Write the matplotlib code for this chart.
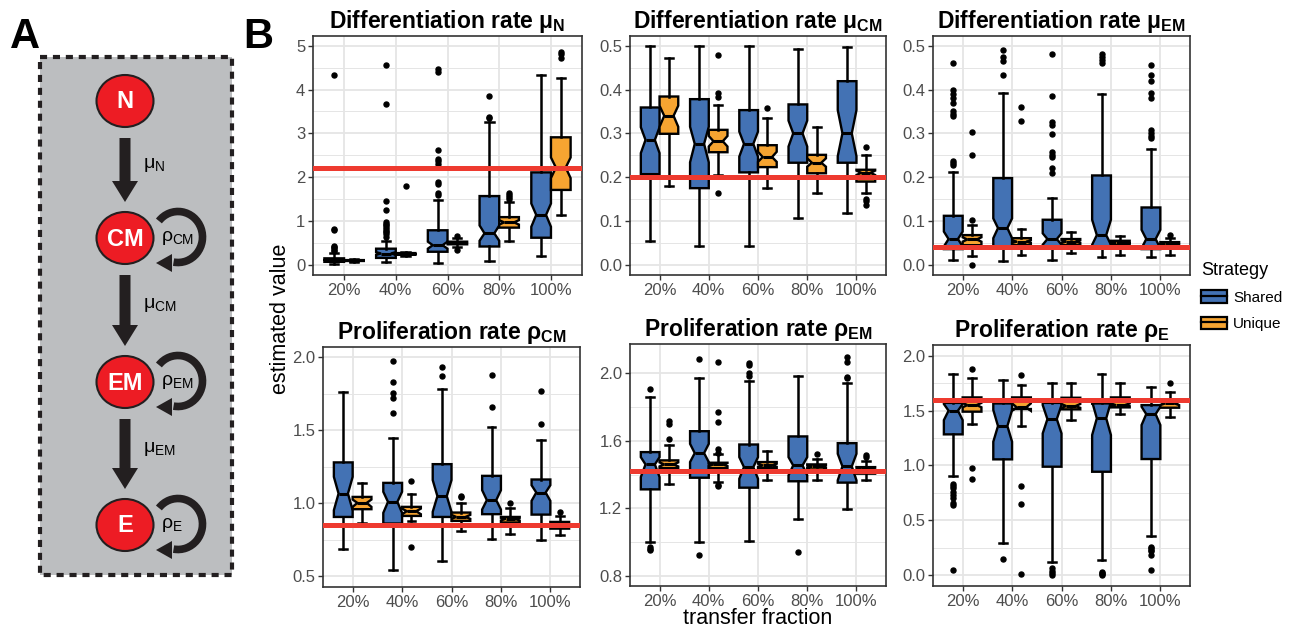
import matplotlib
matplotlib.use('Agg')
import matplotlib.pyplot as plt
import matplotlib.patches as mpatches
from matplotlib.lines import Line2D

plt.rcParams['font.family'] = ['Liberation Sans', 'DejaVu Sans']
plt.rcParams['mathtext.fontset'] = 'custom'
plt.rcParams['mathtext.rm'] = 'Liberation Sans'
plt.rcParams['mathtext.it'] = 'Liberation Sans'
plt.rcParams['mathtext.bf'] = 'Liberation Sans:bold'

# ---- data -------------------------------------------------------------
fractions = ['20%', '40%', '60%', '80%', '100%']
strategies = ['Shared', 'Unique']

# one row per fraction: (whisker low, q1, notch low, median, notch high, q3, whisker high)
mu_n_shared = [(0.03, 0.07, 0.10, 0.11, 0.12, 0.15, 0.28),
               (0.06, 0.16, 0.23, 0.26, 0.29, 0.37, 0.55),
               (0.05, 0.30, 0.37, 0.45, 0.53, 0.79, 1.47),
               (0.08, 0.42, 0.55, 0.72, 0.90, 1.57, 3.25),
               (0.20, 0.62, 0.87, 1.14, 1.40, 2.11, 4.33)]
mu_n_unique = [(0.07, 0.09, 0.095, 0.10, 0.105, 0.11, 0.13),
               (0.21, 0.23, 0.24, 0.25, 0.26, 0.27, 0.29),
               (0.40, 0.47, 0.48, 0.50, 0.52, 0.53, 0.62),
               (0.55, 0.85, 0.92, 0.97, 1.02, 1.09, 1.43),
               (1.13, 1.71, 1.98, 2.22, 2.45, 2.91, 4.27)]
mu_n_shared_out = [[4.33, 0.83, 0.80, 0.44, 0.41, 0.38, 0.35, 0.32],
                   [4.57, 3.66, 1.45, 1.26, 0.98, 0.94, 0.90, 0.86, 0.82, 0.78, 0.74, 0.70, 0.64],
                   [4.46, 4.41, 2.61, 2.42, 2.37, 2.30, 1.88, 1.84, 1.65, 1.60],
                   [3.85, 3.38, 3.35],
                   []]
mu_n_unique_out = [[], [1.80], [0.67, 0.35], [1.65, 1.60, 1.55, 1.50], [4.85, 4.82, 4.72]]

mu_cm_shared = [(0.055, 0.207, 0.255, 0.285, 0.314, 0.359, 0.500),
                (0.044, 0.175, 0.234, 0.276, 0.315, 0.378, 0.500),
                (0.043, 0.211, 0.247, 0.276, 0.304, 0.353, 0.500),
                (0.106, 0.233, 0.270, 0.300, 0.329, 0.366, 0.492),
                (0.118, 0.233, 0.248, 0.300, 0.353, 0.419, 0.496)]
mu_cm_unique = [(0.181, 0.299, 0.315, 0.340, 0.363, 0.384, 0.471),
                (0.205, 0.257, 0.270, 0.282, 0.294, 0.308, 0.365),
                (0.176, 0.223, 0.235, 0.246, 0.258, 0.273, 0.335),
                (0.163, 0.209, 0.224, 0.233, 0.243, 0.251, 0.315),
                (0.165, 0.190, 0.205, 0.210, 0.215, 0.217, 0.251)]
mu_cm_shared_out = [[], [], [], [], []]
mu_cm_unique_out = [[], [0.478, 0.392, 0.383, 0.164], [0.358], [], [0.268, 0.150, 0.145, 0.137]]

mu_em_shared = [(0.011, 0.036, 0.042, 0.059, 0.076, 0.112, 0.213),
                (0.009, 0.040, 0.061, 0.084, 0.106, 0.198, 0.391),
                (0.011, 0.038, 0.046, 0.059, 0.072, 0.103, 0.153),
                (0.017, 0.040, 0.046, 0.068, 0.103, 0.204, 0.389),
                (0.017, 0.036, 0.038, 0.059, 0.080, 0.131, 0.264)]
mu_em_unique = [(0.020, 0.045, 0.053, 0.058, 0.063, 0.068, 0.090),
                (0.023, 0.045, 0.050, 0.053, 0.056, 0.061, 0.081),
                (0.027, 0.045, 0.050, 0.053, 0.056, 0.059, 0.074),
                (0.023, 0.045, 0.048, 0.050, 0.052, 0.055, 0.065),
                (0.023, 0.043, 0.046, 0.048, 0.050, 0.052, 0.062)]
mu_em_shared_out = [[0.460, 0.399, 0.390, 0.380, 0.370, 0.350, 0.345, 0.340, 0.237, 0.233, 0.228],
                    [0.490, 0.475, 0.465, 0.433],
                    [0.480, 0.385, 0.325, 0.320, 0.298, 0.258, 0.250, 0.245, 0.222, 0.210],
                    [0.482, 0.475, 0.468, 0.460],
                    [0.455, 0.432, 0.420, 0.392, 0.380, 0.307, 0.300, 0.295, 0.290]]
mu_em_unique_out = [[0.302, 0.250, 0.102, 0.000], [0.361, 0.328], [], [], [0.069]]

rho_cm_shared = [(0.689, 0.906, 0.952, 1.066, 1.180, 1.279, 1.763),
                 (0.546, 0.861, 0.934, 1.009, 1.078, 1.139, 1.448),
                 (0.605, 0.906, 0.941, 1.048, 1.158, 1.267, 1.781),
                 (0.753, 0.925, 0.957, 1.021, 1.089, 1.187, 1.523),
                 (0.747, 0.922, 1.016, 1.073, 1.123, 1.162, 1.432)]
rho_cm_unique = [(0.868, 0.959, 0.975, 1.002, 1.025, 1.043, 1.135),
                 (0.877, 0.913, 0.925, 0.945, 0.963, 0.975, 1.062),
                 (0.810, 0.879, 0.893, 0.906, 0.920, 0.936, 1.002),
                 (0.788, 0.868, 0.882, 0.893, 0.900, 0.906, 0.970),
                 (0.785, 0.826, 0.845, 0.855, 0.862, 0.872, 0.915)]
rho_cm_shared_out = [[], [1.975, 1.830, 1.755, 1.720, 1.615], [1.930, 1.870], [1.875, 1.660], [1.770, 1.540]]
rho_cm_unique_out = [[], [1.150, 0.700], [1.050, 1.040], [1.000], [0.940]]

rho_em_shared = [(1.001, 1.312, 1.385, 1.460, 1.503, 1.533, 1.862),
                 (1.001, 1.381, 1.474, 1.527, 1.582, 1.657, 1.970),
                 (1.005, 1.322, 1.375, 1.444, 1.503, 1.578, 1.957),
                 (1.139, 1.360, 1.395, 1.454, 1.503, 1.626, 1.986),
                 (1.198, 1.352, 1.366, 1.448, 1.523, 1.586, 1.941)]
rho_em_unique = [(1.342, 1.438, 1.448, 1.460, 1.472, 1.484, 1.576),
                 (1.356, 1.438, 1.450, 1.460, 1.468, 1.470, 1.520),
                 (1.366, 1.438, 1.446, 1.454, 1.464, 1.474, 1.539),
                 (1.369, 1.430, 1.440, 1.448, 1.454, 1.460, 1.494),
                 (1.369, 1.405, 1.425, 1.435, 1.440, 1.444, 1.480)]
rho_em_shared_out = [[1.905, 0.970, 0.960, 0.950], [2.085, 0.920], [2.060, 2.050, 2.000, 1.985],
                     [0.940], [2.095, 2.070, 1.980, 1.970]]
rho_em_unique_out = [[1.720, 1.700, 1.610], [2.070, 1.770, 1.710, 1.550, 1.530, 1.340, 1.330],
                     [], [1.520], [1.515, 1.505]]

rho_e_shared = [(0.906, 1.283, 1.413, 1.499, 1.560, 1.570, 1.833),
                (0.295, 1.055, 1.216, 1.359, 1.505, 1.565, 1.778),
                (0.115, 0.988, 1.292, 1.422, 1.550, 1.570, 1.748),
                (0.137, 0.942, 1.277, 1.429, 1.580, 1.565, 1.830),
                (0.356, 1.058, 1.368, 1.468, 1.535, 1.550, 1.711)]
rho_e_unique = [(1.374, 1.490, 1.530, 1.550, 1.570, 1.620, 1.800),
                (1.362, 1.514, 1.498, 1.529, 1.565, 1.620, 1.733),
                (1.413, 1.511, 1.525, 1.541, 1.560, 1.617, 1.754),
                (1.468, 1.529, 1.540, 1.550, 1.565, 1.620, 1.748),
                (1.444, 1.526, 1.550, 1.565, 1.580, 1.602, 1.672)]
rho_e_shared_out = [[0.830, 0.810, 0.790, 0.760, 0.730, 0.700, 0.660, 0.640, 0.050], [0.145],
                    [0.060, 0.040, 0.020, 0.000], [0.030, 0.020, 0.010, 0.000],
                    [0.260, 0.245, 0.230, 0.220, 0.180, 0.045]]
rho_e_unique_out = [[1.875, 0.975, 0.880], [1.820, 0.810, 0.650, 0.005], [], [], [1.755]]

# true parameter values (red lines)
true_values = [2.2, 0.2, 0.04, 0.85, 1.42, 1.6]

titles = [r'Differentiation rate $\mathbf{\mu_{N}}$',
          r'Differentiation rate $\mathbf{\mu_{CM}}$',
          r'Differentiation rate $\mathbf{\mu_{EM}}$',
          r'Proliferation rate $\mathbf{\rho_{CM}}$',
          r'Proliferation rate $\mathbf{\rho_{EM}}$',
          r'Proliferation rate $\mathbf{\rho_{E}}$']

yticks = [[0, 1, 2, 3, 4, 5],
          [0.0, 0.1, 0.2, 0.3, 0.4, 0.5],
          [0.0, 0.1, 0.2, 0.3, 0.4, 0.5],
          [0.5, 1.0, 1.5, 2.0],
          [0.8, 1.2, 1.6, 2.0],
          [0.0, 0.5, 1.0, 1.5, 2.0]]
ytick_labels = [['0', '1', '2', '3', '4', '5'],
                ['0.0', '0.1', '0.2', '0.3', '0.4', '0.5'],
                ['0.0', '0.1', '0.2', '0.3', '0.4', '0.5'],
                ['0.5', '1.0', '1.5', '2.0'],
                ['0.8', '1.2', '1.6', '2.0'],
                ['0.0', '0.5', '1.0', '1.5', '2.0']]
ylims = [(-0.23, 5.22), (-0.023, 0.522), (-0.023, 0.522),
         (0.427, 2.068), (0.739, 2.174), (-0.10, 2.098)]

panels = [(mu_n_shared, mu_n_shared_out, mu_n_unique, mu_n_unique_out),
          (mu_cm_shared, mu_cm_shared_out, mu_cm_unique, mu_cm_unique_out),
          (mu_em_shared, mu_em_shared_out, mu_em_unique, mu_em_unique_out),
          (rho_cm_shared, rho_cm_shared_out, rho_cm_unique, rho_cm_unique_out),
          (rho_em_shared, rho_em_shared_out, rho_em_unique, rho_em_unique_out),
          (rho_e_shared, rho_e_shared_out, rho_e_unique, rho_e_unique_out)]

# ---- style ------------------------------------------------------------
W, H = 1296, 630
BLUE = '#4372B4'
ORANGE = '#F6A431'
RED = '#EE3A2F'
GRID = '#E5E5E5'
colors = [BLUE, ORANGE]

# axes boxes in pixels (left, top, right, bottom)
boxes = [(313, 36, 582, 275), (630, 36, 886, 275), (933, 36, 1190, 275),
         (323, 347, 580, 587), (630, 344, 886, 586), (933, 345, 1190, 586)]

fig = plt.figure(figsize=(W / 100, H / 100), dpi=100)


def place(l, t, r, b):
    return fig.add_axes([l / W, 1 - b / H, (r - l) / W, (b - t) / H])


def make_stats(rows, outs):
    stats = []
    for (lo, q1, cilo, med, cihi, q3, hi), fl in zip(rows, outs):
        stats.append(dict(whislo=lo, q1=q1, cilo=cilo, med=med, cihi=cihi,
                          q3=q3, whishi=hi, fliers=fl))
    return stats


x = list(range(1, len(fractions) + 1))
for k, (sh, sh_out, un, un_out) in enumerate(panels):
    ax = place(*boxes[k])
    for j, (rows, outs) in enumerate([(sh, sh_out), (un, un_out)]):
        pos = [p + (-0.19 if j == 0 else 0.19) for p in x]
        ax.bxp(make_stats(rows, outs), positions=pos, widths=0.38,
               shownotches=True, patch_artist=True, manage_ticks=False,
               capwidths=0.16, zorder=3,
               boxprops=dict(facecolor=colors[j], edgecolor='black', linewidth=1.7),
               whiskerprops=dict(color='black', linewidth=1.8),
               capprops=dict(color='black', linewidth=1.8),
               medianprops=dict(color='black', linewidth=2.2),
               flierprops=dict(marker='o', markerfacecolor='black',
                               markeredgecolor='black', markersize=3.6))
    ax.axhline(true_values[k], color=RED, lw=3.6, zorder=6)

    ax.set_xlim(0.4, 5.6)
    ax.set_ylim(*ylims[k])
    ax.set_xticks(x)
    ax.set_xticklabels(fractions)
    yt = yticks[k]
    ax.set_yticks(yt)
    ax.set_yticklabels(ytick_labels[k])
    step = yt[1] - yt[0]
    minor = [yt[0] - step / 2] + [v + step / 2 for v in yt]
    ax.set_yticks([m for m in minor if ylims[k][0] < m < ylims[k][1]], minor=True)
    ax.grid(which='major', color=GRID, lw=1.3, zorder=0)
    ax.grid(which='minor', axis='y', color=GRID, lw=0.7, zorder=0)
    ax.set_axisbelow(True)
    ax.tick_params(which='major', length=3.5, width=1, color='#333333',
                   labelcolor='#4D4D4D', labelsize=12, pad=2)
    ax.tick_params(which='minor', length=0)
    for s in ax.spines.values():
        s.set_color('#333333')
        s.set_linewidth(1.2)
    ax.set_title(titles[k], fontsize=16.5, fontweight='bold', pad=6)

fig.text(280 / W, 1 - 319 / H, 'estimated value', rotation=90, fontsize=15.5,
         ha='center', va='center')
fig.text(758 / W, 1 - 618 / H, 'transfer fraction', fontsize=15.5,
         ha='center', va='center')

# legend
handles = [(mpatches.Patch(facecolor=c, edgecolor='black', linewidth=1.6),
            Line2D([], [], color='black', lw=1.6)) for c in colors]
fig.legend(handles, strategies, title='Strategy', loc='upper left',
           bbox_to_anchor=(1201 / W, 1 - 262 / H), frameon=False, fontsize=11,
           title_fontsize=13, handlelength=1.7, handleheight=0.9,
           alignment='left', labelspacing=0.75, handletextpad=0.4,
           borderpad=0, borderaxespad=0)

# ---- panel A: model schematic -----------------------------------------
axa = fig.add_axes([0, 0, 250 / W, 1])
axa.set_xlim(0, 250)
axa.set_ylim(H, 0)
axa.axis('off')

DARK = '#231F20'
axa.add_patch(mpatches.Rectangle((40, 57), 192, 518, facecolor='#BCBEC0',
                                 edgecolor=DARK, lw=3, linestyle=(0, (1.7, 1.4))))

cells = ['N', 'CM', 'EM', 'E']
cell_y = [101, 238, 382, 525]
for name, cy in zip(cells, cell_y):
    axa.add_patch(mpatches.Ellipse((125, cy), 57, 52, facecolor='#ED1C24',
                                   edgecolor=DARK, lw=1.5))
    axa.text(125, cy + 1, name, color='white', fontsize=17, fontweight='bold',
             ha='center', va='center')

mu_labels = [r'$\mu_{\mathrm{N}}$', r'$\mu_{\mathrm{CM}}$', r'$\mu_{\mathrm{EM}}$']
for i, lab in enumerate(mu_labels):
    y0 = cell_y[i] + 37
    y1 = cell_y[i + 1] - 36
    axa.add_patch(mpatches.FancyArrow(125, y0, 0, y1 - y0, width=11, head_width=26,
                                      head_length=21, length_includes_head=True,
                                      color=DARK, lw=0))
    axa.text(143, (y0 + y1) / 2 - 5, lab, fontsize=14, ha='left', va='center')

rho_labels = [r'$\rho_{\mathrm{CM}}$', r'$\rho_{\mathrm{EM}}$', r'$\rho_{\mathrm{E}}$']
for cy, lab in zip(cell_y[1:], rho_labels):
    axa.add_patch(mpatches.Arc((178, cy - 1), 49, 51, theta1=-140, theta2=100,
                               color=DARK, lw=5.5))
    axa.add_patch(mpatches.Polygon([(156, cy + 25), (172, cy + 16), (172, cy + 34)],
                                   closed=True, color=DARK, lw=0))
    axa.text(161, cy, lab, fontsize=14, ha='left', va='center')

fig.text(10 / W, 1 - 48 / H, 'A', fontsize=30, fontweight='bold', va='baseline')
fig.text(243 / W, 1 - 48 / H, 'B', fontsize=30, fontweight='bold', va='baseline')

fig.savefig('out.png', dpi=100)
